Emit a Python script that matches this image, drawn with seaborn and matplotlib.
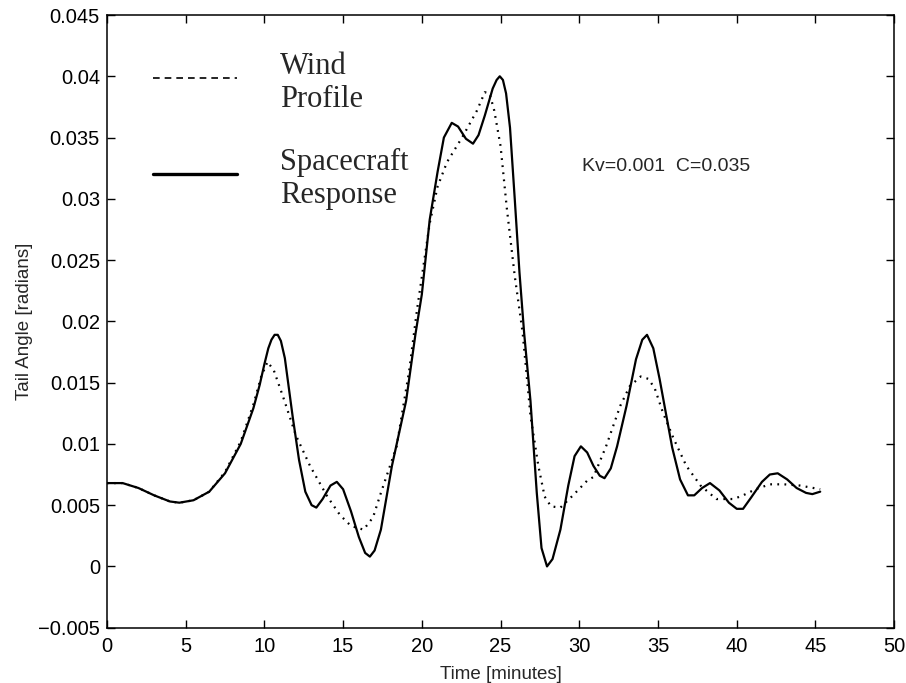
import matplotlib
matplotlib.use("Agg")
import matplotlib.pyplot as plt
from matplotlib.lines import Line2D
import seaborn as sns
import pandas as pd

# ---- data ----
resp_t = [0.0, 1.0, 2.0, 3.0, 4.0, 4.6, 5.5, 6.5, 7.5, 8.5, 9.3, 9.7, 10.0, 10.25, 10.45,
          10.65, 10.85, 11.05, 11.3, 11.8, 12.2, 12.6, 13.0, 13.3, 13.7, 14.2, 14.6, 15.0,
          15.5, 16.0, 16.4, 16.7, 17.0, 17.4, 18.1, 19.0, 19.6, 20.0, 20.5, 21.0, 21.4,
          21.9, 22.3, 22.8, 23.25, 23.6, 24.0, 24.5, 24.75, 24.95, 25.15, 25.35, 25.6,
          25.9, 26.2, 26.5, 26.9, 27.3, 27.6, 27.95, 28.3, 28.8, 29.3, 29.7, 30.1, 30.5,
          30.9, 31.3, 31.6, 32.0, 32.4, 33.0, 33.6, 34.0, 34.3, 34.7, 35.1, 35.5, 35.9,
          36.4, 36.9, 37.3, 37.8, 38.3, 38.9, 39.5, 40.0, 40.4, 40.9, 41.6, 42.1, 42.6,
          43.2, 43.8, 44.4, 44.8, 45.3]
resp_y = [0.0068, 0.0068, 0.0064, 0.0058, 0.0053, 0.0052, 0.0054, 0.0061, 0.0076, 0.0100,
          0.0129, 0.0148, 0.0165, 0.0178, 0.0185, 0.0189, 0.0189, 0.0184, 0.0170, 0.0122,
          0.0087, 0.0061, 0.0050, 0.0048, 0.0055, 0.0066, 0.0069, 0.0063, 0.0045, 0.0024,
          0.0011, 0.0008, 0.0013, 0.0030, 0.0082, 0.0135, 0.0190, 0.0222, 0.0283, 0.0322,
          0.0350, 0.0362, 0.0359, 0.0349, 0.0345, 0.0352, 0.0368, 0.0390, 0.0397, 0.0400,
          0.0397, 0.0386, 0.0358, 0.0300, 0.0240, 0.0190, 0.0135, 0.0060, 0.0015, 0.0000,
          0.0006, 0.0030, 0.0066, 0.0090, 0.0098, 0.0093, 0.0082, 0.0074, 0.0072, 0.0080,
          0.0098, 0.0131, 0.0169, 0.0185, 0.0189, 0.0178, 0.0153, 0.0125, 0.0097, 0.0071,
          0.0058, 0.0058, 0.0064, 0.0068, 0.0062, 0.0052, 0.0047, 0.0047, 0.0056, 0.0069,
          0.0075, 0.0076, 0.0071, 0.0064, 0.0060, 0.0059, 0.0061]

wind_t = [0.0, 1.0, 2.0, 3.0, 4.0, 4.6, 5.5, 6.5, 7.5, 8.5, 9.3, 9.8, 10.2, 10.6, 11.2,
          12.0, 12.9, 14.0, 14.8, 15.5, 16.3, 16.9, 17.4, 18.4, 19.2, 19.7, 20.5, 21.0,
          21.6, 22.6, 23.5, 24.0, 24.3, 24.6, 25.0, 25.4, 25.9, 26.4, 26.9, 27.4, 27.8,
          28.2, 28.8, 29.6, 30.5, 30.9, 31.7, 32.6, 33.2, 33.9, 34.4, 34.8, 35.3, 36.0,
          36.8, 37.7, 38.7, 39.8, 40.4, 41.2, 42.1, 43.0, 44.0, 45.3]
wind_y = [0.0068, 0.0068, 0.0064, 0.0058, 0.0053, 0.0052, 0.0054, 0.0061, 0.0077, 0.0102,
          0.0132, 0.0155, 0.0167, 0.0160, 0.0138, 0.0107, 0.0082, 0.0057, 0.0042, 0.0033,
          0.0030, 0.0040, 0.0060, 0.0098, 0.0160, 0.0210, 0.0280, 0.0310, 0.0330, 0.0351,
          0.0372, 0.0387, 0.0386, 0.0372, 0.0343, 0.0292, 0.0237, 0.0191, 0.0123, 0.0082,
          0.0057, 0.0049, 0.0048, 0.0058, 0.0070, 0.0073, 0.0098, 0.0131, 0.0147, 0.0155,
          0.0153, 0.0145, 0.0126, 0.0104, 0.0082, 0.0066, 0.0055, 0.0055, 0.0058, 0.0063,
          0.0067, 0.0067, 0.0066, 0.0063]

x_ticks = [0, 5, 10, 15, 20, 25, 30, 35, 40, 45, 50]
y_ticks = [-0.005, 0, 0.005, 0.01, 0.015, 0.02, 0.025, 0.03, 0.035, 0.04, 0.045]
y_tick_labels = ["\u22120.005", "0", "0.005", "0.01", "0.015", "0.02", "0.025",
                 "0.03", "0.035", "0.04", "0.045"]
legend_labels = ["Wind\nProfile", "Spacecraft\nResponse"]
annotation = "Kv=0.001  C=0.035"

# ---- plotting ----
sns.set_style("ticks")
plt.rcParams["font.family"] = ["Liberation Sans", "DejaVu Sans"]

fig = plt.figure(figsize=(9.06, 6.83), dpi=100)
ax = fig.add_axes([0.118, 0.081, 0.869, 0.897])

wind_df = pd.DataFrame({"t": wind_t, "y": wind_y})
resp_df = pd.DataFrame({"t": resp_t, "y": resp_y})

sns.lineplot(data=wind_df, x="t", y="y", ax=ax, color="black", lw=1.6,
             linestyle=(0, (0.8, 2.4)), sort=False, estimator=None)
sns.lineplot(data=resp_df, x="t", y="y", ax=ax, color="black", lw=1.6,
             sort=False, estimator=None)

ax.set_xlim(0, 50)
ax.set_ylim(-0.005, 0.045)
ax.set_xticks(x_ticks)
ax.set_xticklabels([str(v) for v in x_ticks])
ax.set_yticks(y_ticks)
ax.set_yticklabels(y_tick_labels)
ax.tick_params(direction="in", length=6, width=1, top=True, right=True,
               labelsize=14.5, colors="black")
ax.tick_params(axis="x", pad=7)
ax.tick_params(axis="y", pad=5)
for s in ax.spines.values():
    s.set_visible(True)
    s.set_color("black")
    s.set_linewidth(1.1)

ax.set_xlabel("Time [minutes]", fontsize=13.5, labelpad=7)
ax.set_ylabel("Tail Angle [radians]", fontsize=13.5, labelpad=4)

handles = [Line2D([], [], color="black", lw=1.2, linestyle=(0, (4, 3))),
           Line2D([], [], color="black", lw=2.4)]
ax.legend(handles=handles, labels=legend_labels, loc="upper left",
          bbox_to_anchor=(0.024, 0.985), frameon=False,
          prop={"family": ["Liberation Serif", "DejaVu Serif"], "size": 22},
          handlelength=2.75, handleheight=1.9, handletextpad=1.4,
          labelspacing=1.1)

ax.text(0.603, 0.7525, annotation, transform=ax.transAxes, fontsize=14,
        ha="left", va="center")

fig.savefig("out.png", dpi=100)
